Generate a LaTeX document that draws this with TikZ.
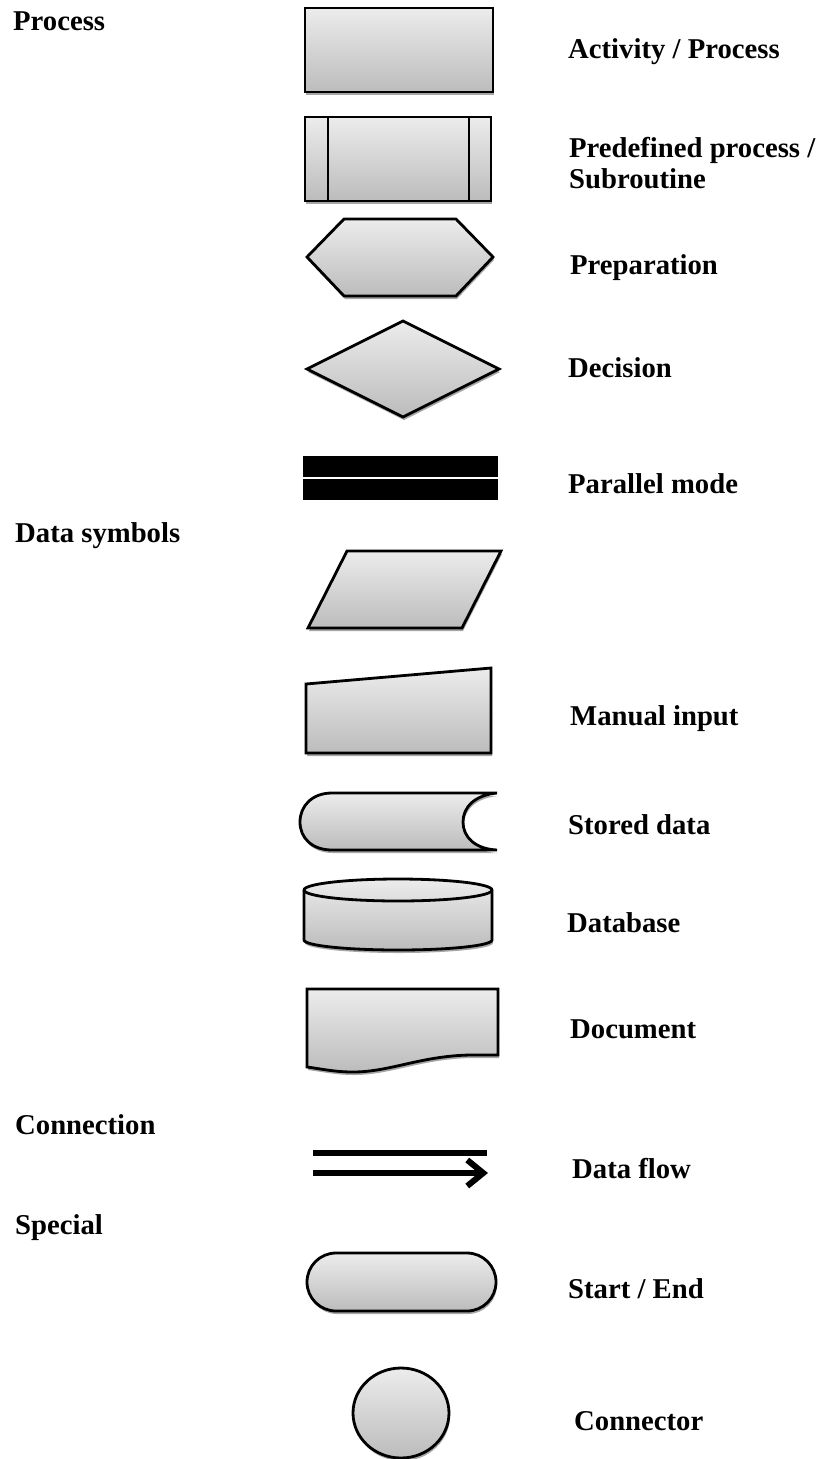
\documentclass[tikz,border=0pt]{standalone}
\usepackage{fontspec}
\setmainfont{Liberation Serif}
\usetikzlibrary{positioning,shadows,arrows.meta}
\definecolor{symtop}{RGB}{236,236,236}
\definecolor{symbot}{RGB}{188,188,188}
\tikzset{
	sym/.style={draw=black,line width=2.8pt,top color=symtop,bottom color=symbot,
		drop shadow={shadow xshift=1pt,shadow yshift=-3pt,fill=black,opacity=0.35}},
	lbl/.style={anchor=base west,inner sep=0pt,font=\fontsize{28.7}{31}\selectfont\bfseries},
	flow/.style={line width=6pt},
}

\begin{document}
\begin{tikzpicture}[x=1pt,y=-1pt]
	\useasboundingbox (0,0) rectangle (827,1459);
	% group titles
	\node[lbl] (tProcess) at (13,30) {Process};
	\node[lbl] (tData) at (15,542) {Data symbols};
	\node[lbl] (tConn) at (15,1134) {Connection};
	\node[lbl] (tSpecial) at (15,1234) {Special};
	% process symbols
	\draw[sym] (305,8) rectangle (493,92);
	\node[lbl] (lActivity) at (568,58) {Activity / Process};
	\draw[sym] (305,117) rectangle (491,201);
	\draw[line width=2.8pt] (328,117) -- (328,201);
	\draw[line width=2.8pt] (469,117) -- (469,201);
	\node[lbl] (lPredef) at (569,157) {Predefined process /};
	\node[lbl] (lSubr) at (569,188) {Subroutine};
	\draw[sym] (307,257) -- (344,219) -- (456,219) -- (493,257) -- (456,296) -- (344,296) -- cycle;
	\node[lbl] (lPrep) at (570,274) {Preparation};
	\draw[sym] (307,369) -- (403,321) -- (499,369) -- (403,417) -- cycle;
	\node[lbl] (lDecision) at (568,377) {Decision};
	\fill (303,456) rectangle (498,477);
	\fill (303,479) rectangle (498,500);
	\node[lbl] (lParallel) at (568,493) {Parallel mode};
	% data symbols
	\draw[sym] (347,551) -- (501,551) -- (462,628) -- (308,628) -- cycle;
	\draw[sym] (306,684) -- (491,668) -- (491,753) -- (306,753) -- cycle;
	\node[lbl] (lManual) at (570,725) {Manual input};
	\draw[sym] (332,793) -- (497,793) .. controls (475,795) and (463,807) .. (463,822)
		.. controls (463,837) and (475,849) .. (497,850) -- (332,850)
		.. controls (312,850) and (300,838) .. (300,822) .. controls (300,806) and (312,793) .. (332,793) -- cycle;
	\node[lbl] (lStored) at (568,834) {Stored data};
	\draw[sym] (304,890) -- (304,940) arc[start angle=180,end angle=0,x radius=94,y radius=10]
		-- (492,890) arc[start angle=0,end angle=-180,x radius=94,y radius=11] -- cycle;
	\draw[line width=2.8pt] (304,890) arc[start angle=180,end angle=0,x radius=94,y radius=11];
	\node[lbl] (lDatabase) at (567,932) {Database};
	\draw[sym] (307,989) -- (498,989) -- (498,1055) -- (470,1055)
		.. controls (420,1056) and (390,1072) .. (353,1072)
		.. controls (335,1072) and (322,1069) .. (307,1067) -- cycle;
	\node[lbl] (lDocument) at (570,1038) {Document};
	% connection
	\coordinate (fTopA) at (313,1153);
	\coordinate (fTopB) at (487,1153);
	\coordinate (fArrA) at (313,1173);
	\coordinate (fArrB) at (488,1173);
	\draw[flow] (fTopA) -- (fTopB);
	\draw[flow,-{Straight Barb[length=16pt,width=26pt,line width=6pt]}] (fArrA) -- (fArrB);
	\node[lbl] (lFlow) at (572,1178) {Data flow};
	% special
	\draw[sym,rounded corners=29pt] (307,1253) rectangle (496,1311);
	\node[lbl] (lStart) at (568,1298) {Start / End};
	\draw[sym] (401,1413) ellipse[x radius=48,y radius=45];
	\node[lbl] (lConnector) at (574,1430) {Connector};
\end{tikzpicture}
\end{document}
